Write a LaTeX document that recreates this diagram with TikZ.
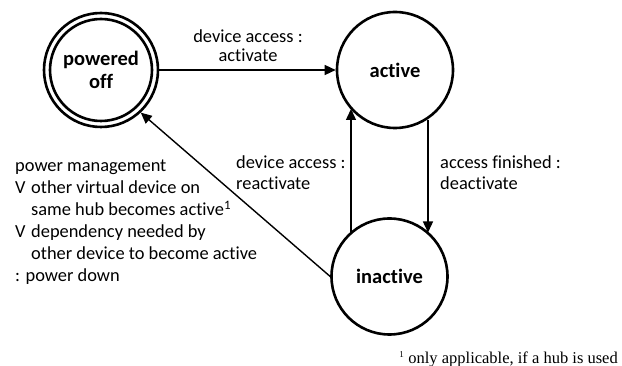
\documentclass[tikz,border=0pt]{standalone}
\usepackage{fontspec}
\setmainfont{Carlito}[Ligatures=NoCommon]
\newfontfamily\notefont{Liberation Serif}
\usetikzlibrary{arrows.meta}
\begin{document}
\begin{tikzpicture}[x=1pt,y=-1pt,
  state/.style={circle,draw,line width=2.6pt,minimum size=116pt,inner sep=0pt,
    font=\fontsize{20.5}{23}\selectfont\bfseries,align=center},
  trans/.style={line width=1.4pt,-{Triangle[length=11pt,width=10pt]}},
  lbl/.style={font=\fontsize{18.4}{21}\selectfont,inner sep=0pt}]
\useasboundingbox (0,0) rectangle (622,366);
% states
\node[state,minimum size=114pt] (off) at (101,70) {powered\\off};
\node[circle,draw,line width=2.6pt,minimum size=102pt] (offin) at (101,70) {};
\node[state] (act) at (395,70) {active};
\node[state] (inact) at (389.5,276.5) {inactive};
% transitions
\draw[trans] (off.east) -- (act.west);
\path (inact) ++(-38.5,-44) coordinate (ua);
\path (act) ++(-44,39) coordinate (ub);
\draw[trans] (ua) -- (ub);
\path (act) ++(33,50) coordinate (da);
\path (inact) ++(38.5,-44) coordinate (db);
\draw[trans] (da) -- (db);
\draw[trans] (inact.west) -- (off.-47);
% labels
\node[lbl,align=center] (l1) at (248,46) {device access :\\[-2pt]activate};
\node[lbl,align=left,anchor=west] (l2) at (236,172.5) {device access :\\reactivate};
\node[lbl,align=left,anchor=west] (l3) at (440,173) {access finished :\\deactivate};
\node[lbl,align=left,anchor=north west,font=\fontsize{18.4}{22}\selectfont] (l4) at (15,160) {power management\\
\makebox[16pt][l]{V}other virtual device on\\
\hspace{16pt}same hub becomes active\textsuperscript{1}\\
\makebox[16pt][l]{V}dependency needed by\\
\hspace{16pt}other device to become active\\
: power down};
\node[font=\notefont\fontsize{16.5}{18}\selectfont,anchor=east,inner sep=0pt] (fn) at (618,359) {\textsuperscript{\small 1} only applicable, if a hub is used};
\end{tikzpicture}
\end{document}
